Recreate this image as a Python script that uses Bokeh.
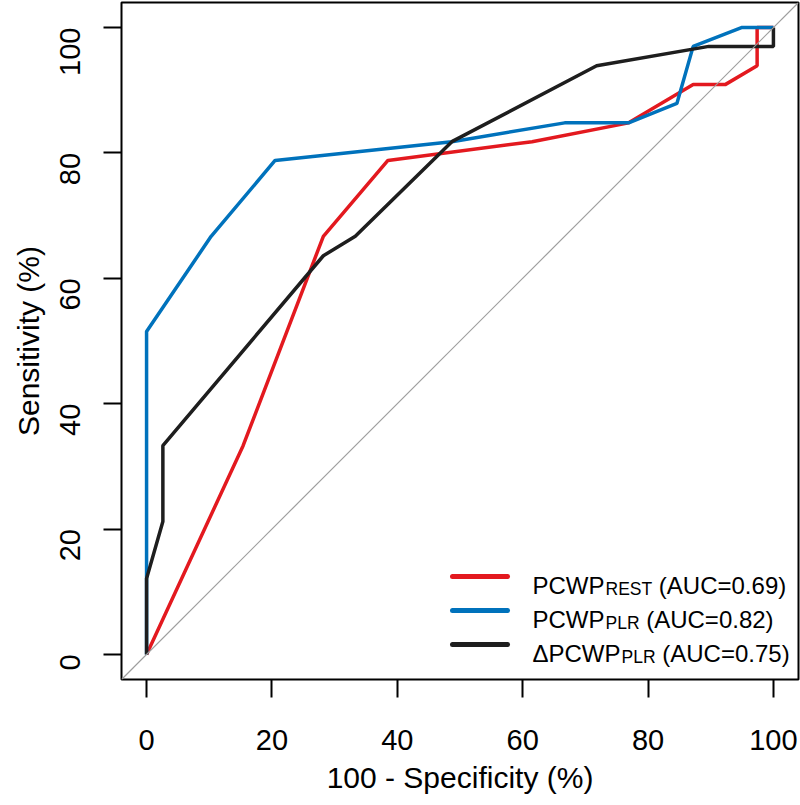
import math
from bokeh.plotting import figure
from bokeh.models import Range1d, Label, Arrow, FixedTicker, Slope
from bokeh.embed import file_html
from bokeh.resources import INLINE

# ---- data (ROC curves, % values) ----
fpr_rest = [0, 15.4, 28.2, 38.5, 61.5, 76.9, 87.2, 92.3, 97.4, 97.4, 100]
tpr_rest = [0, 33.3, 66.7, 78.8, 81.8, 84.8, 90.9, 90.9, 93.9, 100, 100]

fpr_plr = [0, 0, 10.3, 20.5, 48.7, 66.7, 76.9, 84.6, 87.2, 94.9, 100]
tpr_plr = [0, 51.5, 66.7, 78.8, 81.8, 84.8, 84.8, 87.9, 97.0, 100, 100]

fpr_dplr = [0, 0, 2.6, 2.6, 28.2, 33.3, 48.7, 71.8, 89.7, 100, 100]
tpr_dplr = [0, 12.1, 21.2, 33.3, 63.6, 66.7, 81.8, 93.9, 97.0, 97.0, 100]

ticks = [0, 20, 40, 60, 80, 100]

series_main = ["PCWP", "PCWP", "\u0394PCWP"]
series_sub = ["REST", "PLR", "PLR"]
series_auc = ["(AUC=0.69)", "(AUC=0.82)", "(AUC=0.75)"]
colors = ["#E3191F", "#0072BC", "#1E1E1E"]

FONT = "Liberation Sans"

# ---- layout ----
FW, FH = 677, 677
XMIN, XMAX, YMIN, YMAX = -4, 104, -4, 104
ppx = FW / (XMAX - XMIN)
ppy = FH / (YMAX - YMIN)

p = figure(width=800, height=805, frame_width=FW, frame_height=FH,
           x_range=Range1d(XMIN, XMAX), y_range=Range1d(YMIN, YMAX),
           output_backend="svg", toolbar_location=None,
           min_border_left=121, min_border_right=2, min_border_top=2,
           min_border_bottom=126)

p.grid.visible = False
p.outline_line_color = "black"
p.outline_line_width = 2
p.background_fill_color = "white"
p.border_fill_color = "white"

for ax in (p.xaxis[0], p.yaxis[0]):
    ax.ticker = FixedTicker(ticks=ticks)
    ax.axis_line_color = None
    ax.major_tick_out = 18
    ax.major_tick_in = 0
    ax.major_tick_line_width = 2
    ax.major_tick_line_color = "black"
    ax.minor_tick_line_color = None
    ax.major_label_text_font = FONT
    ax.major_label_text_font_size = "29px"
    ax.major_label_text_color = "black"
    ax.axis_label_text_font = FONT
    ax.axis_label_text_font_size = "30px"
    ax.axis_label_text_font_style = "normal"
    ax.axis_label_text_color = "black"

p.xaxis.axis_label = "100 - Specificity (%)"
p.yaxis.axis_label = "Sensitivity (%)"
p.xaxis.major_label_standoff = 32
p.xaxis.axis_label_standoff = 8
p.yaxis.major_label_standoff = 33
p.yaxis.axis_label_standoff = 3
p.yaxis.major_label_orientation = math.pi / 2

# ---- curves ----
p.line(fpr_rest, tpr_rest, line_color=colors[0], line_width=3.5)
p.line(fpr_plr, tpr_plr, line_color=colors[1], line_width=3.5)
p.line(fpr_dplr, tpr_dplr, line_color=colors[2], line_width=3.5)

# diagonal reference line
p.add_layout(Slope(gradient=1, y_intercept=0, line_color="#9E9E9E", line_width=1.2))

# ---- legend (manual, for subscripts) ----
def dx(px):  # pixel offset from frame left -> data x
    return XMIN + px / ppx

def dy(px):  # pixel offset above frame bottom -> data y
    return YMIN + px / ppy

row_up = [103, 69, 35]        # px above frame bottom
sw_left, sw_right = 331, 386  # px from frame left
txt_left = 411
main_size, sub_size = 24, 17.5
space_w = 0.278 * main_size
main_w = {"PCWP": 3.0 * main_size, "\u0394PCWP": 3.668 * main_size}
sub_w = {"REST": 2.667 * sub_size, "PLR": 1.945 * sub_size}

for i in range(3):
    yc = row_up[i]
    p.add_layout(Arrow(end=None, x_start=dx(sw_left), y_start=dy(yc),
                       x_end=dx(sw_right), y_end=dy(yc),
                       line_color=colors[i], line_width=5, line_cap="round"))
    base = yc - 0.716 * main_size / 2
    x0 = txt_left
    p.add_layout(Label(x=dx(x0), y=dy(base), text=series_main[i],
                       text_font=FONT, text_font_size=f"{main_size}px",
                       text_align="left", text_baseline="alphabetic",
                       text_color="black"))
    x1 = x0 + main_w[series_main[i]] + 1
    p.add_layout(Label(x=dx(x1), y=dy(base - 4), text=series_sub[i],
                       text_font=FONT, text_font_size=f"{sub_size}px",
                       text_align="left", text_baseline="alphabetic",
                       text_color="black"))
    x2 = x1 + sub_w[series_sub[i]] + space_w
    p.add_layout(Label(x=dx(x2), y=dy(base), text=series_auc[i],
                       text_font=FONT, text_font_size=f"{main_size}px",
                       text_align="left", text_baseline="alphabetic",
                       text_color="black"))

open("out.html", "w").write(file_html(p, INLINE))
